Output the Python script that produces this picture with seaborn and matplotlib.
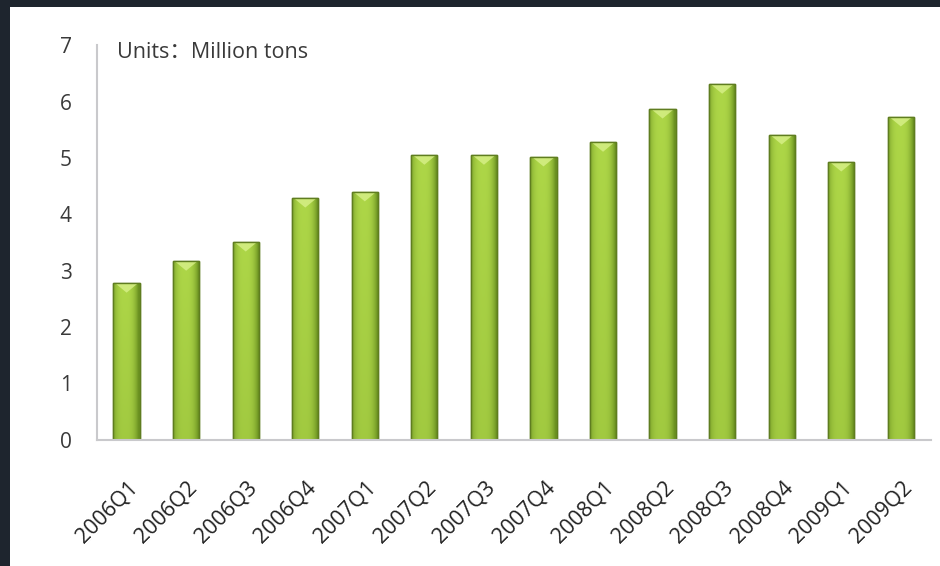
import matplotlib
matplotlib.use("Agg")
import matplotlib.pyplot as plt
import matplotlib.patches as mpatches
import matplotlib.transforms as mtransforms
import numpy as np
import pandas as pd
import seaborn as sns

quarters = [
    "2006Q1", "2006Q2", "2006Q3", "2006Q4", "2007Q1", "2007Q2", "2007Q3",
    "2007Q4", "2008Q1", "2008Q2", "2008Q3", "2008Q4", "2009Q1", "2009Q2",
]
output = [2.78, 3.17, 3.51, 4.29, 4.40, 5.05, 5.05,
          5.02, 5.28, 5.87, 6.31, 5.41, 4.93, 5.73]

sns.set_theme(style="white")
plt.rcParams["font.family"] = ["Open Sans", "Noto Sans CJK SC", "DejaVu Sans"]

fig = plt.figure(figsize=(9.4, 5.66), dpi=100, facecolor="#1e252e")
# white canvas inside the dark frame
fig.patches.append(mpatches.Rectangle(
    (10 / 940, 0), 1 - 10 / 940, 1 - 7 / 566, transform=fig.transFigure,
    facecolor="white", edgecolor="none", zorder=-10))

ax = fig.add_axes([0.103, 0.223, 0.887, 0.697])
ax.set_facecolor("none")

df = pd.DataFrame({"quarter": quarters, "output": output})
sns.barplot(data=df, x="quarter", y="output", ax=ax, width=0.44,
            color="#92c23a", edgecolor="#5f7d20", linewidth=1.0,
            saturation=1)

# cylinder-like shading: dark edges, light middle, a bit darker towards the base
light = np.array([0.68, 0.84, 0.28])
dark = np.array([0.42, 0.57, 0.13])
xs = np.linspace(-1, 1, 48)
across = np.clip(1 - np.abs(xs + 0.1) ** 3, 0, 1)
ys = np.linspace(0, 1, 64)[:, None]
along = 0.82 + 0.18 * ys
mix = (across[None, :] * along)[..., None]
shade_img = dark + (light - dark) * mix

for bar in list(ax.patches):
    x0, y0 = bar.get_x(), bar.get_y()
    w, h = bar.get_width(), bar.get_height()
    im = ax.imshow(shade_img, aspect="auto", origin="lower",
                   extent=(x0, x0 + w, y0, y0 + h),
                   zorder=bar.get_zorder() + 0.1, interpolation="bilinear")
    im.set_clip_path(bar)
    # light bevel at the top of the bar
    tip = mpatches.Polygon(
        [(x0 + w * 0.06, h), (x0 + w * 0.94, h), (x0 + w * 0.5, h - 0.17)],
        closed=True, facecolor="#d6ef86", edgecolor="none", alpha=0.85,
        zorder=bar.get_zorder() + 0.2)
    ax.add_patch(tip)
    ax.add_patch(mpatches.Rectangle((x0, y0), w, h, facecolor="none",
                                    edgecolor="#5f7d20", linewidth=1.0,
                                    zorder=bar.get_zorder() + 0.3))

ax.set_xlim(-0.5, len(quarters) - 0.5)
ax.set_ylim(0, 7)
ax.set_yticks(range(0, 8))
ax.set_xlabel("")
ax.set_ylabel("")

for side in ["top", "right"]:
    ax.spines[side].set_visible(False)
for side in ["left", "bottom"]:
    ax.spines[side].set_color("#c9c9cc")
    ax.spines[side].set_linewidth(1.5)

ax.tick_params(axis="y", length=0, pad=18, labelsize=15, labelcolor="#3a3a3a")
ax.tick_params(axis="x", length=0, pad=32, labelsize=15.5, labelcolor="#222222")
shift = mtransforms.ScaledTranslation(8 / 100, 0, fig.dpi_scale_trans)
for lbl in ax.get_xticklabels():
    lbl.set_rotation(45)
    lbl.set_ha("right")
    lbl.set_va("center")
    lbl.set_rotation_mode("anchor")
    lbl.set_transform(lbl.get_transform() + shift)

ax.text(0.024, 1.008, "Units：Million tons", transform=ax.transAxes,
        ha="left", va="top", fontsize=15.5, color="#3a3a3a")

fig.savefig("out.png", dpi=100, facecolor=fig.get_facecolor())
